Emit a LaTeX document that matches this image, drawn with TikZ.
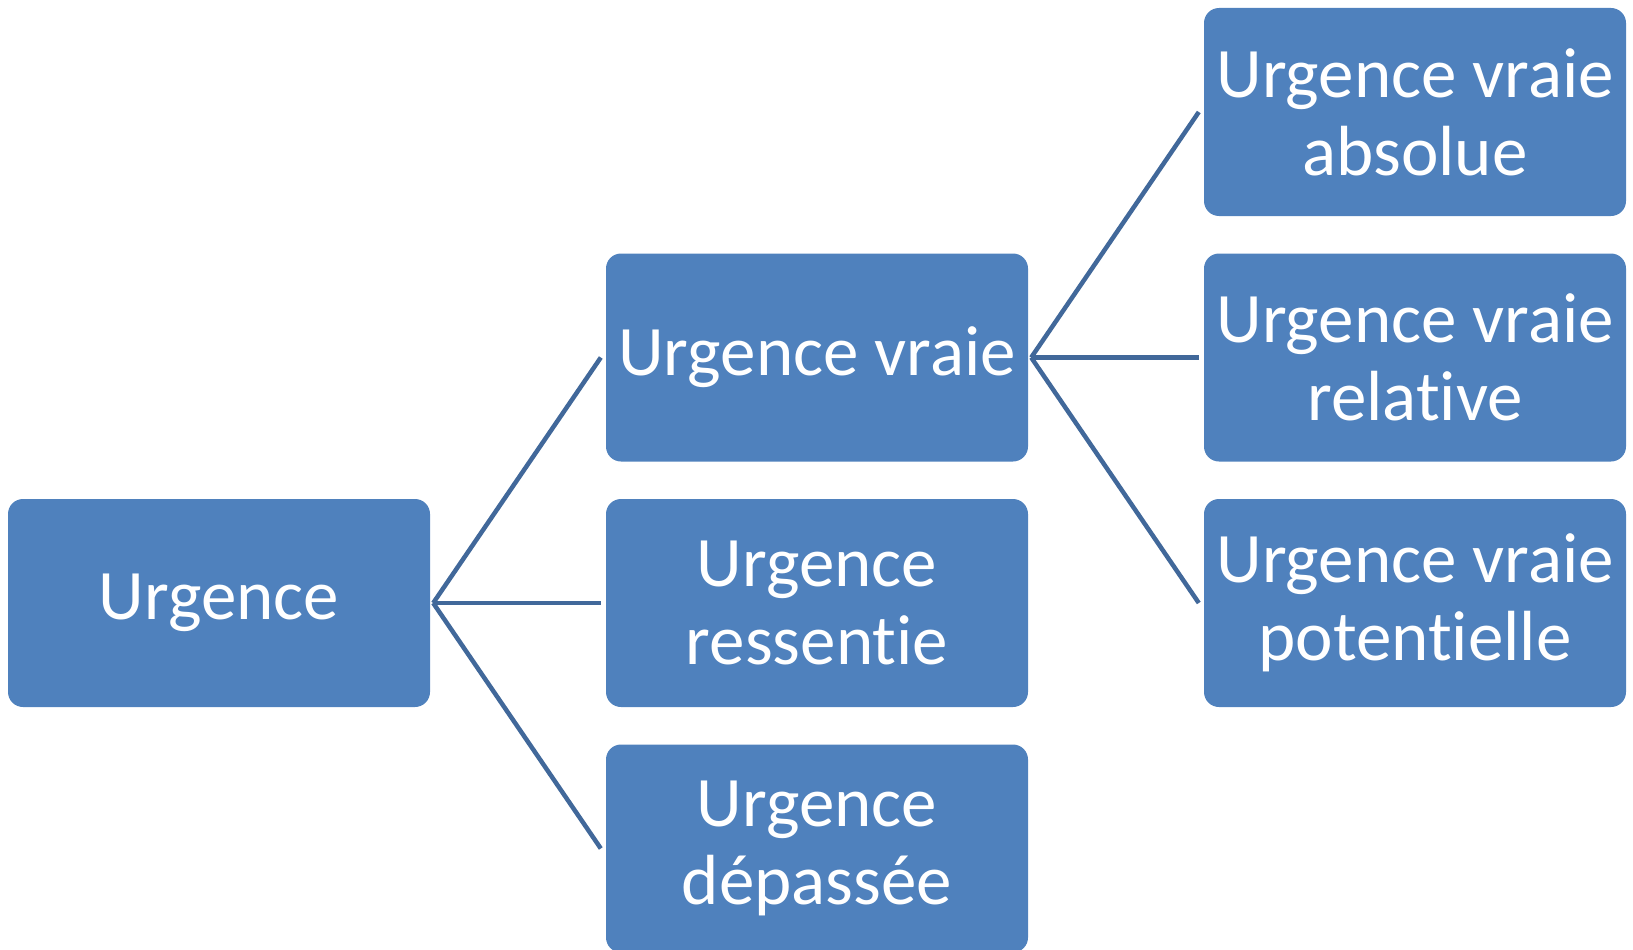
\documentclass[tikz,border=0pt]{standalone}
\usepackage{fontspec}
\setmainfont{Carlito}[Ligatures=NoCommon]
\usepackage{tikz}

\definecolor{boxblue}{HTML}{4F81BD}
\definecolor{lineblue}{HTML}{41689A}

\tikzset{
  urgbox/.style={fill=boxblue,rounded corners=15pt,minimum width=422pt,minimum height=208pt,
    text=white,align=center,inner sep=0pt,font=\fontsize{71}{78}\selectfont},
  urgline/.style={draw=lineblue,line width=4.5pt}
}

\begin{document}
\begin{tikzpicture}[x=1pt,y=-1pt]
\useasboundingbox (0,0) rectangle (1633,950);
\node[urgbox] (urg)   at (219,603)   {Urgence};
\node[urgbox] (vraie) at (817,357.5) {Urgence vraie};
\node[urgbox] (ress)  at (817,603)   {Urgence\\ressentie};
\node[urgbox] (depa)  at (817,848.5) {Urgence\\dépassée};
\node[urgbox] (abso)  at (1415,112)  {Urgence vraie\\absolue};
\node[urgbox] (rela)  at (1415,357.5){Urgence vraie\\relative};
\node[urgbox] (pote)  at (1415,603)  {Urgence vraie\\potentielle};
\coordinate (urgout)   at ([xshift=3pt]urg.east);
\coordinate (vraieout) at ([xshift=3pt]vraie.east);
\draw[urgline] (urgout) -- ([xshift=-5pt]vraie.west);
\draw[urgline] (urgout) -- ([xshift=-5pt]ress.west);
\draw[urgline] (urgout) -- ([xshift=-5pt]depa.west);
\draw[urgline] (vraieout) -- ([xshift=-5pt]abso.west);
\draw[urgline] (vraieout) -- ([xshift=-5pt]rela.west);
\draw[urgline] (vraieout) -- ([xshift=-5pt]pote.west);
\end{tikzpicture}
\end{document}
